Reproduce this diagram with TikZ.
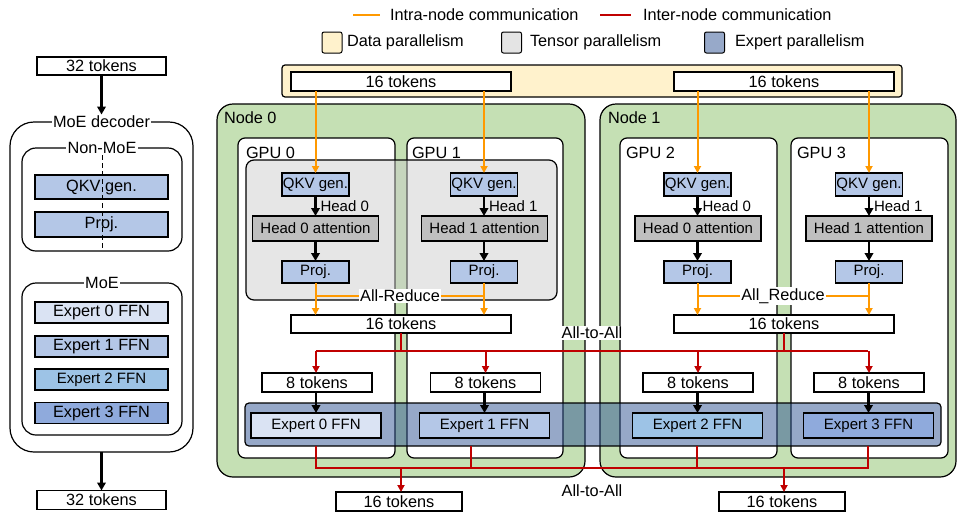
\documentclass[tikz,border=0pt]{standalone}
\usepackage{fontspec}
\setmainfont{Liberation Sans}
\usetikzlibrary{arrows.meta}

\definecolor{dpfill}{RGB}{255,242,204}
\definecolor{nodegreen}{RGB}{197,224,180}
\definecolor{qkvblue}{RGB}{180,199,231}
\definecolor{attgray}{RGB}{191,191,191}
\definecolor{tpgray}{RGB}{200,200,200}
\definecolor{epblue}{RGB}{47,83,147}
\definecolor{epswatch}{RGB}{151,169,201}
\definecolor{tpswatch}{RGB}{228,228,228}
\definecolor{exA}{RGB}{218,227,243}
\definecolor{exB}{RGB}{180,199,231}
\definecolor{exC}{RGB}{157,195,230}
\definecolor{exD}{RGB}{143,170,220}
\definecolor{intra}{RGB}{255,153,0}
\definecolor{inter}{RGB}{192,0,0}

\newcommand\fsA{\fontsize{15}{17}\selectfont}
\newcommand\fsB{\fontsize{16.3}{18}\selectfont}

\begin{document}
\begin{tikzpicture}[x=1pt,y=-1pt,
  every node/.style={inner sep=0pt, outer sep=0pt},
  tok/.style={draw, fill=white, line width=1.1pt, font=\fsB},
  blk/.style={draw, line width=1.1pt, font=\fsA},
  qkv/.style={blk, fill=qkvblue, minimum width=67, minimum height=23},
  att/.style={blk, fill=attgray, minimum width=126, minimum height=25},
  prj/.style={blk, fill=qkvblue, minimum width=67, minimum height=22},
  eight/.style={tok, minimum width=110, minimum height=19},
  expbox/.style={blk, minimum width=130, minimum height=25},
  lexp/.style={draw, line width=1.1pt, font=\fsB, minimum width=133, minimum height=21},
  gpu/.style={draw, fill=white, line width=1.2pt, rounded corners=7pt, minimum width=157, minimum height=320},
  title/.style={font=\fsB, anchor=west},
  lbl/.style={fill=white, inner sep=1.5pt, font=\fsB},
  swatch/.style={draw, line width=1pt, rounded corners=2pt, minimum width=20, minimum height=21},
  orl/.style={draw=intra, line width=2pt},
  orarr/.style={orl, -{Triangle[length=7pt,width=7pt]}},
  redl/.style={draw=inter, line width=2pt},
  redarr/.style={redl, -{Triangle[length=7pt,width=7pt]}},
  blarr/.style={draw=black, line width=2.2pt, -{Triangle[length=8pt,width=8.5pt]}}]

\useasboundingbox (0,0) rectangle (958,512);

% ---------- legend ----------
\coordinate (lgA1) at (353,15); \coordinate (lgA2) at (380,15);
\draw[orl] (lgA1) -- (lgA2);
\node[title] (lgAt) at (390,15) {Intra-node communication};
\coordinate (lgB1) at (600,15); \coordinate (lgB2) at (631,15);
\draw[redl] (lgB1) -- (lgB2);
\node[title] (lgBt) at (643,15) {Inter-node communication};
\node[swatch, fill=dpfill] (swd) at (332,42.5) {};
\node[title] (swdt) at (347,42.5) {Data parallelism};
\node[swatch, fill=tpswatch] (swt) at (511.5,42.5) {};
\node[title] (swtt) at (530,42.5) {Tensor parallelism};
\node[swatch, fill=epswatch] (swe) at (714.5,42.5) {};
\node[title] (swet) at (735,42.5) {Expert parallelism};

% ---------- left: MoE decoder overview ----------
\node[tok, minimum width=129, minimum height=18] (in32) at (101.5,66) {32 tokens};
\node[draw, line width=1.2pt, rounded corners=24pt, minimum width=183, minimum height=330] (dec) at (101.5,287) {};
\node[draw, line width=1.2pt, rounded corners=14pt, minimum width=160, minimum height=103] (nm) at (102,199.5) {};
\node[draw, line width=1.2pt, rounded corners=14pt, minimum width=160, minimum height=152] (moe) at (102,359) {};
\node[lbl] (decl) at (101.5,122) {MoE decoder};
\node[lbl] (nml) at (102,148) {Non-MoE};
\node[lbl] (moel) at (102,283) {MoE};
\node[blk, fill=qkvblue, font=\fsB, minimum width=133, minimum height=24] (lq) at (101.5,187) {QKV gen.};
\node[blk, fill=qkvblue, font=\fsB, minimum width=133, minimum height=25] (lp) at (101.5,224.5) {Proj.};
\draw[dashed, dash pattern=on 5pt off 3pt, line width=1pt] (nml.south) -- (nm.south);
\node[lexp, fill=exA] (le0) at (101.5,312.5) {Expert 0 FFN};
\node[lexp, fill=exB] (le1) at (101.5,346.5) {Expert 1 FFN};
\node[lexp, fill=exC, font=\fsA] (le2) at (101.5,379.5) {Expert 2 FFN};
\node[lexp, fill=exD] (le3) at (101.5,413) {Expert 3 FFN};
\node[tok, minimum width=129, minimum height=19] (out32) at (101.5,500) {32 tokens};
\draw[blarr] (in32.south) -- (decl.north);
\draw[blarr] (dec.south) -- (out32.north);

% ---------- data parallel input ----------
\node[draw, line width=1.2pt, fill=dpfill, rounded corners=3pt, minimum width=620, minimum height=32] (dp) at (592,81) {};
\node[tok, minimum width=220, minimum height=19] (tA) at (401,81.5) {16 tokens};
\node[tok, minimum width=220, minimum height=19] (tB) at (784,81.5) {16 tokens};

% ---------- nodes and GPUs ----------
\node[draw, line width=1.2pt, fill=nodegreen, rounded corners=16pt, minimum width=368, minimum height=373] (n0) at (401,290.5) {};
\node[draw, line width=1.2pt, fill=nodegreen, rounded corners=16pt, minimum width=356, minimum height=373] (n1) at (778,290.5) {};
\node[title] (n0t) at (224,118) {Node 0};
\node[title] (n1t) at (608,118) {Node 1};
\node[gpu] (g0) at (316.5,298) {};
\node[gpu, minimum width=156] (g1) at (485,298) {};
\node[gpu] (g2) at (698.5,298) {};
\node[gpu] (g3) at (869.5,298) {};
\node[title] (g0t) at (246,153) {GPU 0};
\node[title] (g1t) at (412,153) {GPU 1};
\node[title] (g2t) at (626,153) {GPU 2};
\node[title] (g3t) at (797,153) {GPU 3};

% tensor parallel group on node 0
\node[draw, line width=1.2pt, fill=tpgray, fill opacity=0.45, rounded corners=8pt, minimum width=311, minimum height=140] (tp) at (401.5,230) {};

% ---------- attention blocks ----------
\node[qkv] (q0) at (315.5,184.5) {QKV gen.};
\node[qkv] (q1) at (484,184.5) {QKV gen.};
\node[qkv] (q2) at (697.5,184.5) {QKV gen.};
\node[qkv] (q3) at (869,184.5) {QKV gen.};
\node[att] (a0) at (315.5,228.5) {Head 0 attention};
\node[att] (a1) at (484.5,228.5) {Head 1 attention};
\node[att] (a2) at (698,228.5) {Head 0 attention};
\node[att] (a3) at (869,228.5) {Head 1 attention};
\node[prj] (p0) at (315.5,272) {Proj.};
\node[prj] (p1) at (484,272) {Proj.};
\node[prj] (p2) at (697.5,272) {Proj.};
\node[prj] (p3) at (869,272) {Proj.};

\foreach \i/\h in {0/0,1/1,2/0,3/1}{
  \draw[blarr] (q\i.south) -- (q\i.south |- a\i.north);
  \node[font=\fsA, anchor=west] (hl\i) at ([xshift=5pt,yshift=-10.5pt]q\i.south) {Head \h};
  \draw[blarr] (a\i.south -| p\i) -- (p\i.north);
}

% input scatter
\foreach \i in {0,1}{ \draw[orarr] (q\i.north |- tA.south) -- (q\i.north); }
\foreach \i in {2,3}{ \draw[orarr] (q\i.north |- tB.south) -- (q\i.north); }

% all-reduce
\node[tok, minimum width=220, minimum height=18] (tC) at (401,324) {16 tokens};
\node[tok, minimum width=220, minimum height=18] (tD) at (784,324) {16 tokens};
\coordinate (arA) at (400,296);
\coordinate (arB) at (783,296);
\draw[orl] (p0.south |- arA) -- (p1.south |- arA);
\draw[orl] (p2.south |- arB) -- (p3.south |- arB);
\foreach \i in {0,1}{ \draw[orarr] (p\i.south) -- (p\i.south |- tC.north); }
\foreach \i in {2,3}{ \draw[orarr] (p\i.south) -- (p\i.south |- tD.north); }
\node[lbl] (arAl) at (arA) {All-Reduce};
\node[lbl] (arBl) at (arB) {All\_Reduce};

% ---------- first all-to-all ----------
\node[eight] (k0) at (317,382.5) {8 tokens};
\node[eight] (k1) at (485.5,382.5) {8 tokens};
\node[eight] (k2) at (698,382.5) {8 tokens};
\node[eight] (k3) at (869,382.5) {8 tokens};
\coordinate (spl) at (592,351);
\draw[redl] (tC.south) -- (tC.south |- spl);
\draw[redl] (tD.south) -- (tD.south |- spl);
\draw[redl] (316,351) -- (868,351);
\draw[redarr] (316,351) -- (316,373);
\draw[redarr] (k1.north |- spl) -- (k1.north);
\draw[redarr] (k2.north |- spl) -- (k2.north);
\draw[redarr] (k3.north |- spl) -- (k3.north);
\node[lbl, inner sep=1pt] (a2aA) at (592,333) {All-to-All};

% ---------- expert parallel group ----------
\node[draw, line width=1.2pt, fill=epblue, fill opacity=0.5, rounded corners=4pt, minimum width=696, minimum height=43] (ep) at (593,424.5) {};
\node[expbox, fill=exA] (e0) at (316,425.5) {Expert 0 FFN};
\node[expbox, fill=exB] (e1) at (484.5,425.5) {Expert 1 FFN};
\node[expbox, fill=exC] (e2) at (697.5,425.5) {Expert 2 FFN};
\node[expbox, fill=exD] (e3) at (868.5,425.5) {Expert 3 FFN};
\foreach \i in {0,1,2,3}{ \draw[blarr] (k\i.south -| e\i) -- (e\i.north); }

% ---------- second all-to-all ----------
\node[tok, minimum width=126, minimum height=19] (oA) at (399,501.5) {16 tokens};
\node[tok, minimum width=126, minimum height=19] (oB) at (782,501.5) {16 tokens};
\coordinate (mrg) at (592,468);
\coordinate (c0) at (316,446); \coordinate (c1) at (471,446);
\coordinate (c2) at (697,446); \coordinate (c3) at (868,446);
\draw[redl] (c0) -- (c0 |- mrg) -- (c3 |- mrg) -- (c3);
\draw[redl] (c1) -- (c1 |- mrg);
\draw[redl] (c2) -- (c2 |- mrg);
\draw[redarr] (401,468) -- (401,492);
\draw[redarr] (784,468) -- (784,492);
\node[font=\fsB] (a2aB) at (592,491) {All-to-All};

\end{tikzpicture}
\end{document}
